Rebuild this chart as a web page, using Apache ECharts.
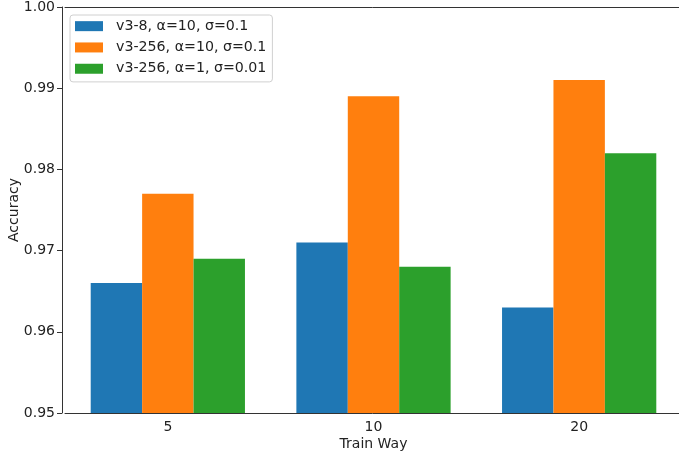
<!DOCTYPE html>
<html>
<head>
<meta charset="utf-8">
<script src="https://cdn.jsdelivr.net/npm/echarts@6/dist/echarts.min.js"></script>
<style>html,body{margin:0;padding:0;background:#fff;}#c{width:679px;height:455px;}</style>
</head>
<body>
<div id="c"></div>
<script>
const categories = ['5', '10', '20'];
const seriesNames = ['v3-8, α=10, σ=0.1', 'v3-256, α=10, σ=0.1', 'v3-256, α=1, σ=0.01'];
const v3_8_a10 = [0.966, 0.971, 0.963];
const v3_256_a10 = [0.977, 0.989, 0.991];
const v3_256_a1 = [0.969, 0.968, 0.982];
const yTicks = [0.95, 0.96, 0.97, 0.98, 0.99, 1.00];
const colors = ['#1f77b4', '#ff7f0e', '#2ca02c'];

const font = 'DejaVu Sans';
const fs = 14;
const chart = echarts.init(document.getElementById('c'), null, {renderer: 'canvas'});
const data = [v3_8_a10, v3_256_a10, v3_256_a1];
chart.setOption({
  animation: false,
  backgroundColor: '#fff',
  grid: {left: 65, top: 7, width: 617, height: 406, containLabel: false, outerBoundsMode: 'none', show: false},
  legend: {
    orient: 'vertical', left: 70, top: 15,
    itemWidth: 28, itemHeight: 10, itemGap: 7,
    padding: [4, 6, 6, 5],
    borderColor: '#d0d0d0', borderWidth: 1, borderRadius: 3,
    backgroundColor: 'rgba(255,255,255,0.8)',
    textStyle: {fontFamily: font, fontSize: 14.2, color: '#222', lineHeight: 14.3, padding: [0, 0, 0, 8]},
    data: seriesNames.map(n => ({name: n, icon: 'rect'}))
  },
  xAxis: [{
    type: 'category', data: categories, position: 'bottom',
    name: 'Train Way', nameLocation: 'middle', nameGap: 24, nameMoveOverlap: false,
    nameTextStyle: {fontFamily: font, fontSize: fs, color: '#222'},
    axisLine: {lineStyle: {color: '#333', width: 1}},
    axisTick: {alignWithLabel: true, length: 5, lineStyle: {color: '#333'}},
    axisLabel: {fontFamily: font, fontSize: fs, color: '#222', margin: 7},
    splitLine: {show: false}
  }, {
    type: 'category', data: categories, position: 'top',
    axisLine: {show: true, onZero: false, lineStyle: {color: '#333', width: 1}},
    axisTick: {show: false}, axisLabel: {show: false}, splitLine: {show: false}
  }],
  yAxis: {
    type: 'value', min: 0.95, max: 1.0, interval: 0.01, offset: 3,
    name: 'Accuracy', nameLocation: 'middle', nameGap: 41, nameMoveOverlap: false,
    nameTextStyle: {fontFamily: font, fontSize: fs, color: '#222'},
    axisLine: {show: true, lineStyle: {color: '#333', width: 1}},
    axisTick: {show: true, length: 5, lineStyle: {color: '#333'}},
    axisLabel: {fontFamily: font, fontSize: fs, color: '#222', margin: 7,
      formatter: v => yTicks.reduce((a, t) => Math.abs(t - v) < Math.abs(a - v) ? t : a).toFixed(2)},
    splitLine: {show: false}
  },
  series: seriesNames.map((n, i) => ({
    name: n, type: 'bar', data: data[i], xAxisIndex: 0,
    barWidth: '25%', barGap: '0%',
    itemStyle: {color: colors[i]}
  }))
});
</script>
</body>
</html>
